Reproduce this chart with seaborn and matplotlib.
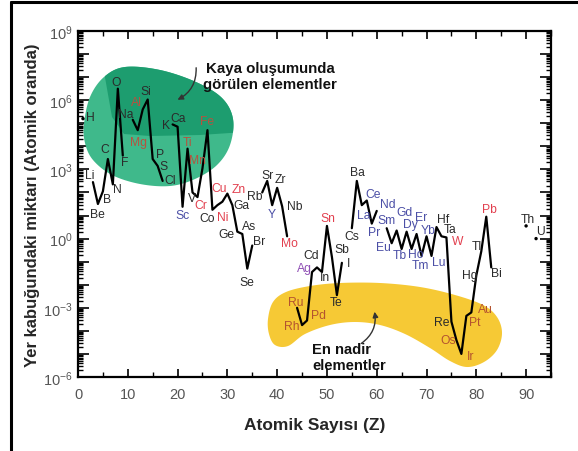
import numpy as np
import pandas as pd
import matplotlib
matplotlib.use("Agg")
import matplotlib.pyplot as plt
import seaborn as sns
from matplotlib.patches import PathPatch, FancyArrowPatch
from matplotlib.path import Path
from matplotlib.lines import Line2D
from matplotlib.ticker import LogLocator, FuncFormatter, MultipleLocator, NullFormatter

# ---------------- data ----------------
atomic_number = [1, 3, 4, 5, 6, 7, 8, 9, 11, 12, 13, 14, 15, 16, 17, 19, 20, 21, 22, 23,
                 24, 25, 26, 27, 28, 29, 30, 31, 32, 33, 34, 35, 37, 38, 39, 40, 41, 42,
                 44, 45, 46, 47, 48, 49, 50, 51, 52, 53, 55, 56, 57, 58, 59, 60, 62, 63,
                 64, 65, 66, 67, 68, 69, 70, 71, 72, 73, 74, 75, 76, 77, 78, 79, 80, 81,
                 82, 83, 90, 92]
symbols = ["H", "Li", "Be", "B", "C", "N", "O", "F", "Na", "Mg", "Al", "Si", "P", "S", "Cl",
           "K", "Ca", "Sc", "Ti", "V", "Cr", "Mn", "Fe", "Co", "Ni", "Cu", "Zn", "Ga", "Ge",
           "As", "Se", "Br", "Rb", "Sr", "Y", "Zr", "Nb", "Mo", "Ru", "Rh", "Pd", "Ag", "Cd",
           "In", "Sn", "Sb", "Te", "I", "Cs", "Ba", "La", "Ce", "Pr", "Nd", "Sm", "Eu", "Gd",
           "Tb", "Dy", "Ho", "Er", "Tm", "Yb", "Lu", "Hf", "Ta", "W", "Re", "Os", "Ir", "Pt",
           "Au", "Hg", "Tl", "Pb", "Bi", "Th", "U"]
log10_abundance = [5.2, 2.45, 1.5, 2.05, 3.45, 2.35, 6.5, 3.6, 5.15, 4.7, 5.6, 6.03, 3.45, 3.15,
                   2.5, 4.95, 4.85, 1.38, 3.9, 2.0, 1.8, 3.05, 4.7, 1.25, 1.45, 1.6, 1.95, 1.45,
                   0.3, 0.2, -1.3, -0.3, 2.0, 2.5, 1.45, 2.2, 1.4, 0.1, -3.0, -3.75, -3.55,
                   -1.45, -1.25, -1.45, 0.55, -0.8, -2.45, -1.05, 0.45, 2.5, 1.45, 1.65, 0.65,
                   1.2, 0.45, -0.2, 0.35, -0.45, 0.3, -0.45, 0.2, -0.75, 0.1, -0.75, 0.5, 0.1,
                   0.05, -3.6, -4.4, -5.0, -3.35, -3.2, -1.6, -0.55, 0.95, -1.25, 0.55, 0.0]
# connected runs of the curve (gaps where an element is missing)
segment = [0, 1, 1, 1, 1, 1, 1, 1, 2, 2, 2, 2, 2, 2, 2, 3, 3, 3, 3, 3, 3, 3, 3, 3, 3, 3, 3, 3,
           3, 3, 3, 3, 4, 4, 4, 4, 4, 4, 5, 5, 5, 5, 5, 5, 5, 5, 5, 5, 6, 6, 6, 6, 6, 6, 7, 7,
           7, 7, 7, 7, 7, 7, 7, 7, 7, 7, 7, 7, 7, 7, 7, 7, 7, 7, 7, 7, 8, 9]
x_ticks = [0, 10, 20, 30, 40, 50, 60, 70, 80, 90]
y_label_exponents = [9, 6, 3, 0, -3, -6]

# ---------------- styling ----------------
DARK = "#2b2b2b"
ROCK = "#b5533f"
RED = "#e2404f"
BLUE = "#4b4fa6"
PURPLE = "#9050b5"
PREC = "#b4532f"
group_color = {}
for s in ["Mg", "Al", "Ti", "Mn", "Fe"]:
    group_color[s] = ROCK
for s in ["Cr", "Ni", "Cu", "Zn", "Mo", "Sn", "W", "Pb"]:
    group_color[s] = RED
for s in ["Sc", "Y", "La", "Ce", "Pr", "Nd", "Sm", "Eu", "Gd", "Tb", "Dy", "Ho", "Er",
          "Tm", "Yb", "Lu"]:
    group_color[s] = BLUE
group_color["Ag"] = PURPLE
for s in ["Ru", "Rh", "Pd", "Os", "Ir", "Pt", "Au"]:
    group_color[s] = PREC

# label offsets in pixels (dx right, dy down)
label_offset = {
    "H": (7, -2), "Li": (-3, -7), "Be": (0, 10), "B": (4, 8), "C": (-3, -10), "N": (5, 5),
    "O": (-2, -7), "F": (2, 6), "Na": (-7, -6), "Mg": (1, 12), "Al": (-6, -7), "Si": (-2, -9),
    "P": (7, -5), "S": (6, 0), "Cl": (7, -1), "K": (-7, 1), "Ca": (1, -9), "Sc": (0, 8),
    "Ti": (0, -7), "V": (-1, 6), "Cr": (3, 8), "Mn": (-5, -8), "Fe": (0, -9), "Co": (-5, 8),
    "Ni": (5, 12), "Cu": (-3, -14), "Zn": (11, -5), "Ga": (9, 0), "Ge": (-11, 2),
    "As": (7, -8), "Se": (0, 13), "Br": (7, -5), "Rb": (-7, 4), "Sr": (0, -6), "Y": (0, 9),
    "Zr": (3, -9), "Nb": (13, 0), "Mo": (2, 7), "Ru": (-1, -6), "Rh": (-10, 1),
    "Pd": (11, -5), "Ag": (-8, -4), "Cd": (-6, -12), "In": (3, 5), "Sn": (1, -8),
    "Sb": (10, -8), "Te": (-1, 7), "I": (7, 0), "Cs": (0, 8), "Ba": (1, -9), "La": (2, 10),
    "Ce": (6, -7), "Pr": (2, 8), "Nd": (11, -7), "Sm": (0, -8), "Eu": (-8, 4),
    "Gd": (8, -19), "Tb": (-2, 6), "Dy": (4, -8), "Ho": (4, 5), "Er": (5, -17),
    "Tm": (-1, 9), "Yb": (2, -6), "Lu": (7, 6), "Hf": (7, -8), "Ta": (9, -7), "W": (11, 4),
    "Re": (-10, 0), "Os": (-8, 0), "Ir": (9, 2), "Pt": (8, 6), "Au": (14, -3),
    "Hg": (-7, -1), "Tl": (-4, -5), "Pb": (3, -8), "Bi": (5, 6), "Th": (2, -7), "U": (4, -8),
}

W, H = 578, 452
DPI = 100

df = pd.DataFrame({"Z": atomic_number, "symbol": symbols,
                   "abundance": [10.0 ** v for v in log10_abundance], "segment": segment})

sns.set_theme(style="ticks")
plt.rcParams["font.family"] = ["Liberation Sans", "DejaVu Sans"]

fig = plt.figure(figsize=(W / DPI, H / DPI), dpi=DPI)
ax = fig.add_axes([78 / W, 1 - 378 / H, (551 - 78) / W, (378 - 32) / H])


def fpx(x, y):
    return (x / W, 1 - y / H)


def smooth_closed(points, n=30):
    p = np.array(points, dtype=float)
    m = len(p)
    out = []
    for i in range(m):
        p0, p1, p2, p3 = p[(i - 1) % m], p[i], p[(i + 1) % m], p[(i + 2) % m]
        for t in np.linspace(0, 1, n, endpoint=False):
            t2, t3 = t * t, t * t * t
            out.append(0.5 * ((2 * p1) + (-p0 + p2) * t + (2 * p0 - 5 * p1 + 4 * p2 - p3) * t2
                              + (-p0 + 3 * p1 - 3 * p2 + p3) * t3))
    out = np.array(out)
    return np.array([fpx(x, y) for x, y in out])


# green blob (rock-forming elements)
green_pts = [(84, 125), (90, 98), (104, 78), (125, 68), (160, 71), (196, 83), (222, 99),
             (233, 120), (230, 146), (217, 166), (195, 180), (170, 187), (140, 185),
             (112, 176), (93, 161), (85, 144)]
gp = smooth_closed(green_pts)
green_patch = PathPatch(Path(gp, closed=True), facecolor="#3fb98b", edgecolor="none",
                        transform=fig.transFigure, zorder=1)
ax.add_patch(green_patch)
dark_pts = [(100, 50), (260, 50), (260, 132), (200, 136), (150, 137), (124, 135),
            (112, 118), (106, 92)]
dp = np.array([fpx(x, y) for x, y in dark_pts])
dark_patch = PathPatch(Path(dp, closed=True), facecolor="#1d9d6f", edgecolor="none",
                       transform=fig.transFigure, zorder=1.1)
ax.add_patch(dark_patch)
dark_patch.set_clip_path(green_patch)

# yellow blob (rarest elements)
yellow_pts = [(268, 320), (273, 303), (286, 293), (310, 287), (340, 284), (380, 284),
              (420, 288), (455, 296), (483, 306), (497, 318), (502, 334), (497, 351),
              (484, 363), (467, 368), (450, 362), (430, 349), (405, 335), (380, 326),
              (355, 323), (330, 326), (305, 335), (288, 347), (275, 346), (269, 335)]
yp = smooth_closed(yellow_pts)
ax.add_patch(PathPatch(Path(yp, closed=True), facecolor="#f6c935", edgecolor="none",
                       transform=fig.transFigure, zorder=1))

# the abundance curve
sns.lineplot(data=df, x="Z", y="abundance", units="segment", estimator=None,
             color="black", linewidth=1.6, ax=ax, zorder=3, legend=False)
single = df[df["symbol"].isin(["H", "Th", "U"])]
sns.scatterplot(data=single, x="Z", y="abundance", color="black", s=6, ax=ax,
                zorder=3, legend=False, edgecolor="none")

ax.set_yscale("log")
ax.set_xlim(0, 95)
ax.set_ylim(1e-6, 1e9)

# element labels
for z, s, a in zip(df["Z"], df["symbol"], df["abundance"]):
    dx, dy = label_offset.get(s, (0, -8))
    ax.annotate(s, (z, a), xytext=(dx * 72 / DPI, -dy * 72 / DPI), textcoords="offset points",
                ha="center", va="center", fontsize=8.7, color=group_color.get(s, DARK),
                zorder=4)

# axes styling
for sp in ax.spines.values():
    sp.set_visible(True)
    sp.set_linewidth(1.6)
    sp.set_color("black")
ax.xaxis.set_major_locator(MultipleLocator(10))
ax.xaxis.set_minor_locator(MultipleLocator(5))
ax.set_xticks(x_ticks)
ax.set_xticklabels([str(t) for t in x_ticks])
ax.yaxis.set_major_locator(LogLocator(base=10, numticks=30))
ax.yaxis.set_minor_locator(LogLocator(base=10, subs=np.arange(2, 10), numticks=30))
ax.yaxis.set_minor_formatter(NullFormatter())


def yfmt(v, pos):
    e = int(round(np.log10(v)))
    if e in y_label_exponents:
        return r"$\mathregular{10^{%d}}$" % e
    return ""


ax.yaxis.set_major_formatter(FuncFormatter(yfmt))
ax.tick_params(axis="both", which="major", direction="in", top=True, right=True,
               length=6, width=1.2, colors="black", labelcolor="#555555", labelsize=10.5)
ax.tick_params(axis="x", which="major", pad=7)
ax.tick_params(axis="y", which="major", length=8, pad=4)
ax.tick_params(axis="both", which="minor", direction="in", top=True, right=True,
               length=3.5, width=1.0, colors="black")

ax.set_xlabel("Atomik Sayısı (Z)", fontsize=12.5, fontweight="bold", labelpad=12)
ax.set_ylabel("Yer kabuğundaki miktarı (Atomik oranda)", fontsize=12,
              fontweight="bold", labelpad=2)

# annotations
fig.text(*fpx(270, 77), "Kaya oluşumunda\ngörülen elementler", ha="center", va="center",
         fontsize=10.8, fontweight="bold", color="#111111", linespacing=1.2)
fig.text(*fpx(312, 358), "En nadir\nelementler", ha="left", va="center",
         fontsize=10.6, fontweight="bold", color="#111111", linespacing=1.2)
arr1 = FancyArrowPatch(fpx(196, 66), fpx(175, 102), transform=fig.transFigure,
                       connectionstyle="arc3,rad=-0.35", arrowstyle="-|>",
                       mutation_scale=8, color="#333333", lw=1.0)
fig.patches.append(arr1)
arr2 = FancyArrowPatch(fpx(359, 346), fpx(374, 310), transform=fig.transFigure,
                       connectionstyle="arc3,rad=0.35", arrowstyle="-|>",
                       mutation_scale=8, color="#333333", lw=1.0)
fig.patches.append(arr2)

# frame lines of the picture
fig.add_artist(Line2D([11 / W, 11 / W], [0, 1 - 3 / H], color="black", lw=2.2,
                      transform=fig.transFigure))
fig.add_artist(Line2D([11 / W, 1], [1 - 3 / H, 1 - 3 / H], color="black", lw=2.2,
                      transform=fig.transFigure))

fig.savefig("out.png", dpi=DPI, facecolor="white")
